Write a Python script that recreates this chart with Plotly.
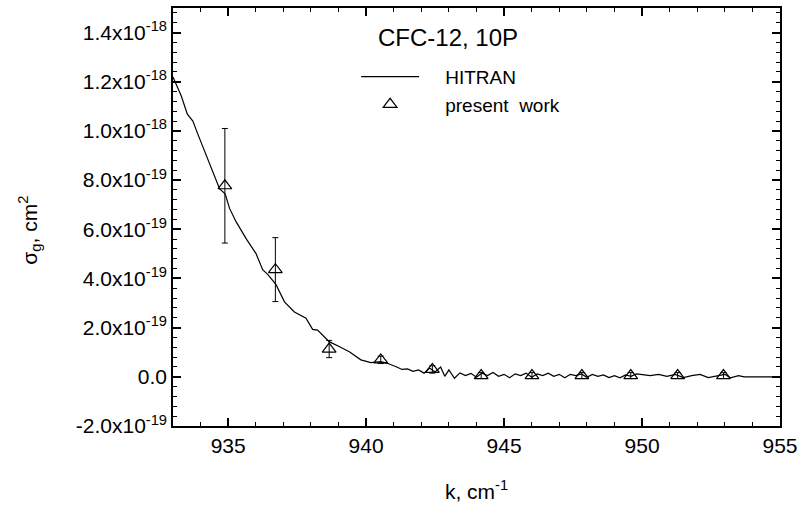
import plotly.graph_objects as go

# HITRAN cross-section curve (x in cm^-1, y in units of 1e-19 cm^2)
hitran_k = [933.0, 933.3, 933.52, 933.72, 933.9, 934.33, 934.69, 934.89, 935.05, 935.29,
            935.65, 936.01, 936.25, 936.43, 936.73, 937.04, 937.4, 937.82, 938.06, 938.24,
            938.66, 939.02, 939.39, 939.81, 940.17, 940.53, 940.77, 941.13,
            941.3, 941.5, 941.7, 941.9, 942.1, 942.3, 942.5, 942.7, 942.85, 943.0,
            943.2, 943.4, 943.6, 943.8, 944.0, 944.2, 944.4, 944.6, 944.8, 945.0,
            945.2, 945.4, 945.6, 945.8, 946.0, 946.2, 946.4, 946.6, 946.8, 947.0,
            947.2, 947.4, 947.6, 947.8, 948.0, 948.2, 948.4, 948.6, 948.8, 949.0,
            949.2, 949.4, 949.6, 949.8, 950.0, 950.3, 950.6, 950.9, 951.2, 951.5,
            951.8, 952.1, 952.4, 952.7, 953.0, 953.2, 953.5, 953.7, 955.0]
hitran_s = [12.19, 11.42, 10.68, 10.40, 9.87, 8.65, 7.64, 7.44, 6.85, 6.30,
            5.62, 5.01, 4.36, 4.17, 3.76, 3.05, 2.64, 2.38, 1.93, 1.90,
            1.43, 1.23, 1.02, 0.69, 0.58, 0.62, 0.55, 0.39,
            0.30, 0.32, 0.22, 0.28, 0.15, 0.36, 0.20, 0.40, 0.02, 0.28,
            -0.06, 0.16, 0.05, 0.14, -0.02, 0.15, 0.05, 0.18, 0.02, 0.10,
            -0.04, 0.12, 0.05, 0.15, -0.02, 0.12, 0.05, 0.15, 0.02, 0.10,
            -0.04, 0.10, 0.05, 0.12, -0.02, 0.10, 0.02, 0.08, -0.03, 0.05,
            -0.04, 0.08, 0.02, 0.12, 0.10, 0.05, 0.10, 0.02, 0.10, -0.03,
            0.05, 0.10, -0.03, 0.05, 0.10, -0.04, 0.05, 0.0, 0.0]

# present work measurements (units of 1e-19 cm^2)
work_k = [934.88, 936.71, 938.66, 940.53, 942.40, 944.17, 946.01, 947.82, 949.59, 951.29, 952.95]
work_s = [7.77, 4.36, 1.13, 0.69, 0.30, 0.05, 0.05, 0.05, 0.05, 0.05, 0.05]
work_err = [2.33, 1.30, 0.35, 0.15, 0.15, 0.12, 0.12, 0.12, 0.12, 0.12, 0.12]

ytick_vals = [-2, 0, 2, 4, 6, 8, 10, 12, 14]
ytick_text = ["-2.0x10<sup>-19</sup>", "0.0", "2.0x10<sup>-19</sup>", "4.0x10<sup>-19</sup>",
              "6.0x10<sup>-19</sup>", "8.0x10<sup>-19</sup>", "1.0x10<sup>-18</sup>",
              "1.2x10<sup>-18</sup>", "1.4x10<sup>-18</sup>"]
xtick_vals = [935, 940, 945, 950, 955]

SC = 1e-19
FONT = "Liberation Sans, Arial, sans-serif"
XR = [933, 955]
YR = [-2 * SC, 15 * SC]
NB = "\u00a0"

fig = go.Figure()
fig.add_trace(go.Scatter(
    x=hitran_k, y=[v * SC for v in hitran_s], mode="lines", name=NB * 4 + "HITRAN",
    line=dict(color="black", width=1.2)))
fig.add_trace(go.Scatter(
    x=work_k, y=[v * SC for v in work_s], mode="markers", name=NB * 4 + "present" + NB + " work",
    marker=dict(symbol="triangle-up-open", size=12, color="black", line=dict(width=1.2)),
    error_y=dict(type="data", array=[e * SC for e in work_err], visible=True,
                 color="black", thickness=1, width=3)))
# transparent helper trace on a second, coincident subplot that carries the top/right ticks
fig.add_trace(go.Scatter(x=work_k, y=[v * SC for v in work_s], xaxis="x2", yaxis="y2",
                         showlegend=False, hoverinfo="skip", mode="markers",
                         marker=dict(opacity=0, size=1, color="rgba(0,0,0,0)")))

tick_common = dict(ticks="inside", tickcolor="black", showgrid=False, zeroline=False)
xminor = dict(ticks="inside", ticklen=4, dtick=1, tickcolor="black", tickwidth=1.2)
yminor = dict(ticks="inside", ticklen=4, dtick=0.4 * SC, tickcolor="black", tickwidth=1.2)
tfont = dict(family=FONT, size=21, color="black")

fig.update_layout(
    xaxis=dict(domain=[0, 1], anchor="y", range=XR, tickvals=xtick_vals, minor=xminor,
               showline=True, linecolor="black", linewidth=1.5, mirror="ticks", tickfont=tfont,
               ticklen=8, tickwidth=1.5,
               title=dict(text="k, cm<sup>-1</sup>", font=dict(family=FONT, size=21, color="black"),
                          standoff=28),
               **tick_common),
    yaxis=dict(domain=[0, 1], anchor="x", range=YR, tickvals=[v * SC for v in ytick_vals],
               ticktext=ytick_text, minor=yminor, showline=True, linecolor="black", linewidth=1.5,
               mirror="ticks", tickfont=tfont, ticklen=8, tickwidth=1.5, **tick_common),
    # coincident second subplot: short ticks on the top and right edges
    xaxis2=dict(domain=[0, 1], anchor="y2", side="top", range=XR, tickmode="linear",
                tick0=933, dtick=1, ticklen=4, tickwidth=1.2, showticklabels=False,
                **tick_common),
    yaxis2=dict(domain=[0, 1], anchor="x2", side="right", range=YR, tickmode="linear",
                tick0=0, dtick=0.4 * SC, ticklen=4, tickwidth=1.2, showticklabels=False,
                **tick_common),
)

fig.add_annotation(text="CFC-12, 10P", xref="paper", yref="paper",
                   x=(449 - 173) / 610, y=(426 - 36) / 420, showarrow=False,
                   xanchor="center", yanchor="middle",
                   font=dict(family=FONT, size=24, color="black"))
fig.add_annotation(text="σ<sub>g</sub>, cm<sup>2</sup>", xref="paper", yref="paper",
                   x=(29 - 173) / 610, y=(426 - 229) / 420, showarrow=False, textangle=-90,
                   xanchor="center", yanchor="middle",
                   font=dict(family=FONT, size=21, color="black"))

fig.update_layout(
    width=804, height=511,
    margin=dict(l=173, r=21, t=6, b=85),
    paper_bgcolor="white", plot_bgcolor="rgba(0,0,0,0)",
    showlegend=True,
    legend=dict(x=(357 - 173) / 610, y=(426 - 56) / 420, xanchor="left", yanchor="top",
                bgcolor="rgba(0,0,0,0)", itemwidth=58,
                font=dict(family=FONT, size=19, color="black")),
)

fig.write_html("out.html")
